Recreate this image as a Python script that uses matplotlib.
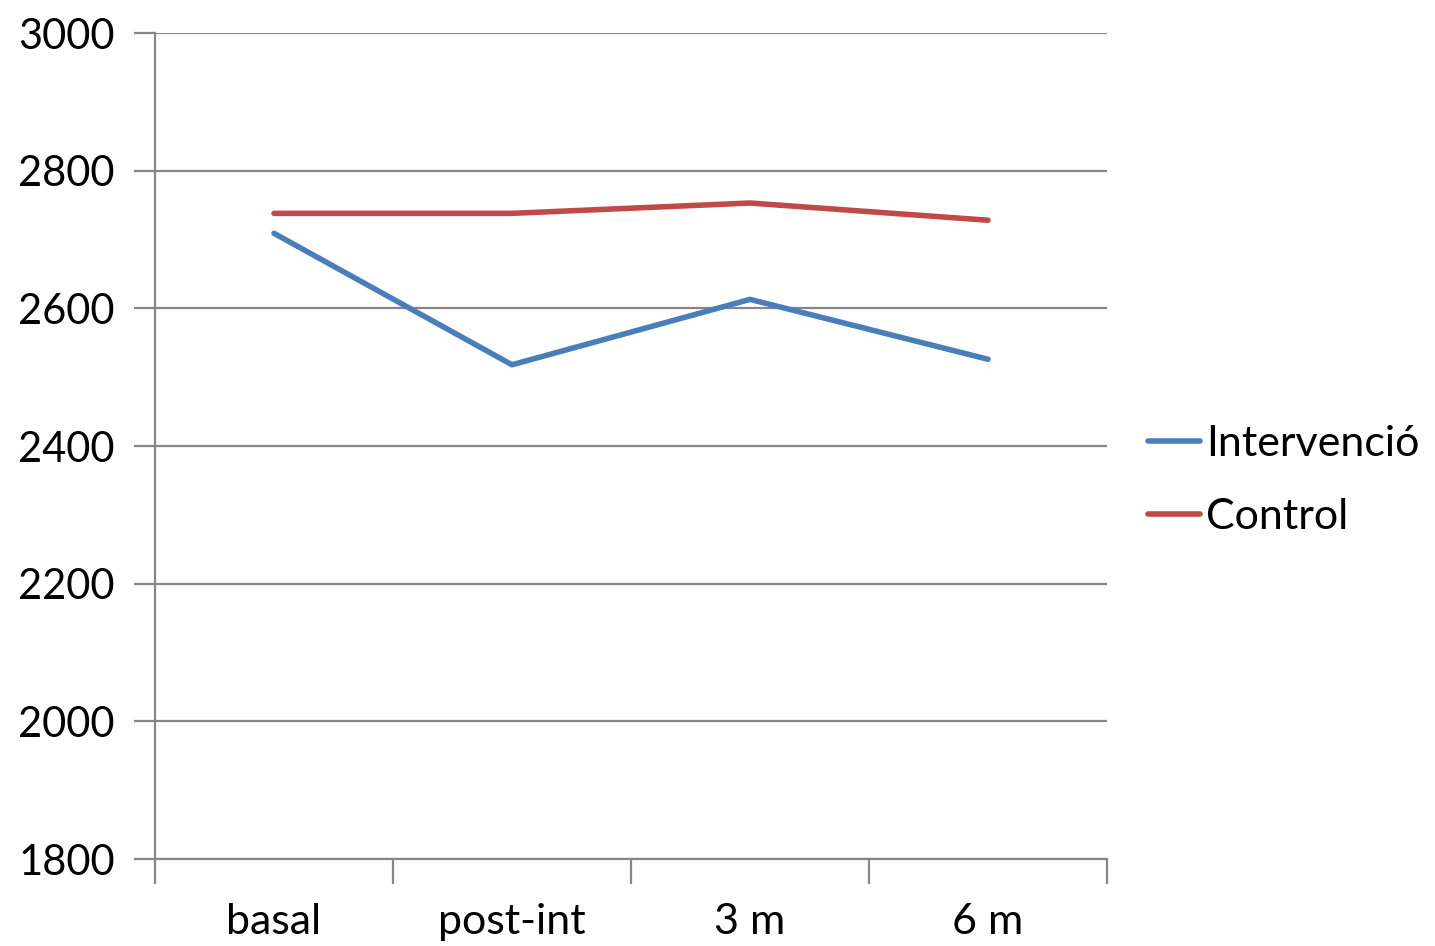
import matplotlib
matplotlib.use("Agg")
import matplotlib.pyplot as plt
from matplotlib.ticker import FixedLocator

categories = ["basal", "post-int", "3 m", "6 m"]
intervencio = [2709, 2518, 2613, 2526]
control = [2738, 2738, 2753, 2728]
y_ticks = [1800, 2000, 2200, 2400, 2600, 2800, 3000]

plt.rcParams["font.family"] = ["Lato", "DejaVu Sans"]

fig = plt.figure(figsize=(14.35, 9.46), dpi=100)
ax = fig.add_axes([155 / 1435, 1 - 859 / 946, (1107 - 155) / 1435, (859 - 33) / 946])

grid_c = "#868686"
x = list(range(len(categories)))
ax.plot(x, intervencio, color="#4A7EBB", lw=4.0, solid_capstyle="round",
        solid_joinstyle="round", label="Intervenció", zorder=3)
ax.plot(x, control, color="#BE4B48", lw=4.0, solid_capstyle="round",
        solid_joinstyle="round", label="Control", zorder=3)

ax.set_xlim(-0.5, len(categories) - 0.5)
ax.set_ylim(1800, 3000)
ax.set_yticks(y_ticks)
ax.set_yticklabels([str(v) for v in y_ticks])
ax.yaxis.grid(True, color=grid_c, lw=1.6)
ax.set_axisbelow(True)

ax.set_xticks(x)
ax.set_xticklabels(categories)
ax.xaxis.set_minor_locator(FixedLocator([i - 0.5 for i in range(len(categories) + 1)]))
ax.tick_params(axis="x", which="major", length=0, pad=32, labelsize=31)
ax.tick_params(axis="x", which="minor", length=18, width=1.6, color=grid_c)
ax.tick_params(axis="y", length=15, width=1.6, color=grid_c, pad=14, labelsize=30)

for side in ["top", "right"]:
    ax.spines[side].set_visible(False)
for side in ["left", "bottom"]:
    ax.spines[side].set_color(grid_c)
    ax.spines[side].set_linewidth(1.6)

ax.legend(loc="center left", bbox_to_anchor=(1.025, 0.458), frameon=False,
          fontsize=31, handlelength=1.2, handletextpad=0.15, labelspacing=0.8,
          borderaxespad=0)

fig.savefig("out.png", dpi=100)
